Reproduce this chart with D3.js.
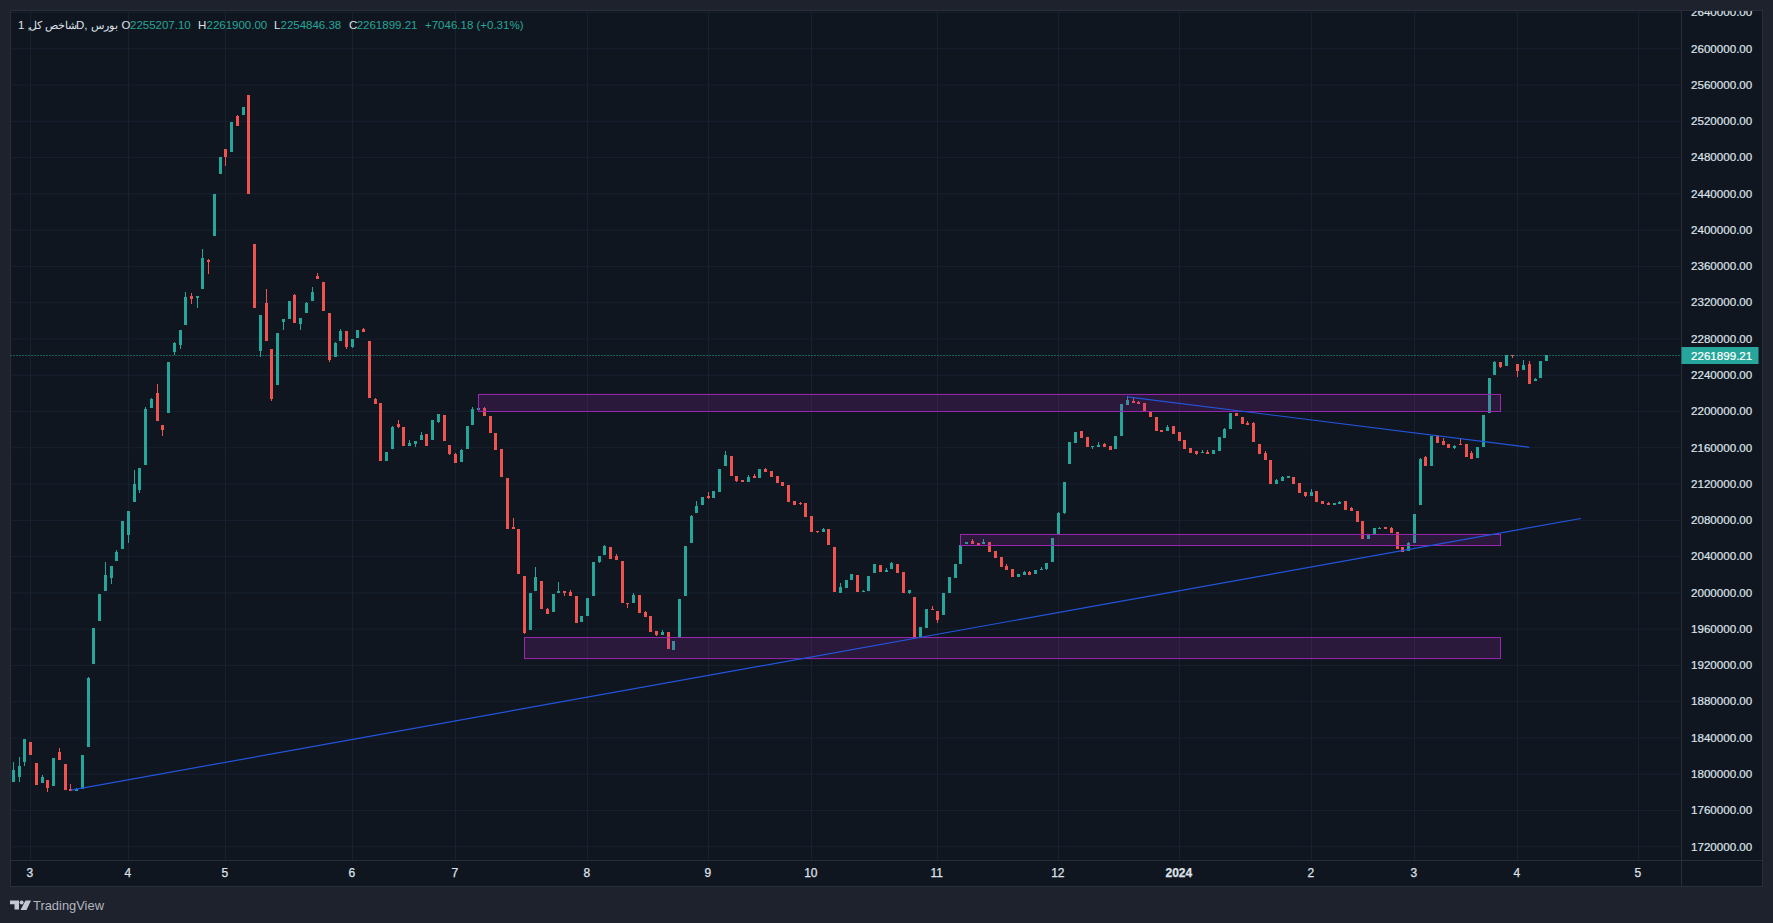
<!DOCTYPE html>
<html><head><meta charset="utf-8">
<script src="https://cdn.jsdelivr.net/npm/d3@7"></script>
<style>
html,body{margin:0;padding:0;background:#1e222d;overflow:hidden}
svg{display:block}
text{font-family:"Liberation Sans",Arial,sans-serif}
</style></head><body>
<script>
// prices in thousands
const open=[
1790.8,1796.3,1812.8,1834.9,1811.7,1789.7,1793,1786.3,1823.8,1810.6,
1783,1780.8,1783,1829.4,1920.9,1968.3,2001.4,2015.8,2034.5,2047.7,
2063.2,2099.6,2112.8,2140.4,2203.2,2219.8,2184.5,2197.7,2265,2272.7,
2294.8,2326.8,2324.5,2334.5,2366.5,2393,2461.4,2488.9,2485.6,2525.3,
2526.4,2548.5,2384.1,2266.1,2319,2268.3,2228.6,2298.1,2301.4,2327.9,
2295.9,2308,2321.2,2348.8,2342.2,2308,2259.5,2277.1,2288.2,2270.5,
2280.4,2290,2277.1,2213.2,2208.8,2144.8,2158,2185.6,2182.3,2161.3,
2163.5,2168,2174.6,2168,2187.8,2195.5,2162.4,2152.5,2143.7,2158,
2184.5,2201,2203.2,2194.4,2175.6,2158,2126,2072,2069.7,2017.9,
1958.3,2001.3,2012.4,1981.5,1978.2,1999.1,2001.3,2000.2,1995.8,1967.2,
1973.8,1995.8,2033.3,2041,2049.9,2040,2034.4,1988.1,1988.1,1996.9,
1978.2,1973.8,1957.2,1952.8,1956.1,1936.3,1949.5,1995.8,2054.3,2087.4,
2096.2,2106.1,2104,2110.6,2139.2,2150.3,2128.2,2123.8,2121.6,2128.2,
2126,2135.9,2133.7,2128.2,2121.6,2118.3,2100.6,2098.4,2098.4,2084.1,
2067.5,2066.4,2069.7,2049.9,1999.1,2004.7,2013.5,2019,2000.2,2001.3,
2021.2,2030,2022.3,2025.6,2031.1,2022.3,1999.1,1994.7,1949.5,1960.5,
1981.5,1979.3,1974.9,1999.1,2015.7,2031.1,2053.2,2056.5,2054.3,2053.2,
2055.4,2045.5,2038.9,2028.9,2025.6,2016.8,2019,2022.3,2020.1,2024.5,
2025.6,2033.3,2063.1,2087.4,2141.4,2164.6,2177.8,2171.2,2160.2,2160.2,
2163.5,2161.3,2158,2172.3,2206.5,2210.9,2209.8,2208.7,2199.9,2193.3,
2178.9,2177.8,2183.4,2176.7,2167.9,2159.1,2155.8,2153.6,2154.7,2152.5,
2155.8,2170.1,2180,2197.7,2193.3,2186.7,2186.7,2163.5,2153.6,2145.9,
2119.4,2122.7,2126,2127.1,2120.5,2110.5,2106.1,2111.6,2100.6,2098.4,
2096.2,2097.3,2100.6,2092.9,2089.6,2078.6,2058.7,2064.2,2069.8,2072,
2070.9,2066.5,2049.9,2045.5,2054.3,2096.3,2149.2,2139.3,2172.4,2166.9,
2163.5,2159.1,2163.5,2163.5,2153.6,2148.1,2160.2,2197.7,2239.7,2254,
2249.6,2261.7,2251.8,2245.2,2251.8,2233,2236.3,2255.2];
const close=[
1804,1808.4,1838.2,1820.5,1787.4,1796.3,1784.1,1817.2,1815,1781.9,
1780.8,1783,1820.5,1905.5,1960.6,1998.1,2019,2029,2044.4,2078.6,
2089.7,2119.4,2137.1,2202.1,2213.2,2188.9,2179,2254,2274.9,2289.3,
2325.7,2323.4,2326.8,2368.7,2364.3,2439.3,2480.1,2480.1,2518.7,2514.3,
2535.3,2439.7,2313.5,2305.8,2277.1,2213.2,2285.9,2301.4,2321.2,2297,
2302.5,2319,2331.2,2345.5,2310.2,2256.2,2274.9,2288.2,2270.5,2279.3,
2289.3,2287,2214.3,2207.6,2144.8,2154.7,2182.3,2182.3,2161.3,2164.6,
2166.8,2173.5,2161.3,2190,2196.6,2166.8,2152.5,2142.6,2156.9,2183.4,
2202.1,2203.2,2194.4,2175.6,2156.9,2127.1,2069.7,2069.7,2020.1,1955,
1999.1,2016.8,1981.5,1976,1998,2001.3,1999.1,1995.8,1966.1,1973.8,
1993.6,2033.3,2039.9,2051,2036.6,2035.5,1988.1,1987,1996.9,1977.1,
1972.7,1956.1,1952.8,1956.1,1937.4,1946.2,1992.5,2051,2084.1,2095.1,
2105,2104,2111.7,2135.9,2151.4,2128.2,2122.7,2121.6,2127.1,2126,
2135.9,2132.6,2127.1,2120.5,2117.2,2099.5,2096.2,2097.3,2083,2066.4,
2066.4,2069.7,2052.1,2000.2,2005.8,2013.5,2020.1,2000.2,2001.3,2017.9,
2031.1,2022.3,2024.5,2032.2,2021.2,1999.1,2002.4,1949.5,1961.6,1981.5,
1980.4,1969.4,1999.1,2016.8,2031.1,2052.1,2055.4,2053.2,2052.1,2055.4,
2044.4,2037.8,2027.8,2024.5,2016.8,2020.1,2022.3,2019,2024.5,2025.6,
2032.2,2059.8,2087.4,2121.6,2165.7,2176.7,2170.1,2160.2,2161.3,2162.4,
2160.2,2156.9,2172.3,2207.6,2212,2208.7,2207.6,2198.8,2193.3,2177.8,
2176.7,2182.2,2174.5,2166.8,2158,2153.6,2152.5,2154.7,2152.5,2156.9,
2171.2,2180,2197.7,2194.4,2185.6,2184.5,2165.7,2152.5,2145.9,2119.4,
2123.8,2127.1,2128.2,2119.4,2109.4,2106.1,2110.5,2099.5,2097.3,2096.2,
2098.4,2099.5,2090.7,2089.6,2077.5,2058.7,2064.2,2070.8,2070.9,2069.8,
2065.4,2047.7,2044.4,2054.3,2086.3,2147,2139.3,2172.4,2164.6,2162.4,
2159.1,2161.3,2162.4,2149.2,2147,2160.2,2195.5,2236.3,2254,2248.5,
2261.7,2260.6,2244.1,2250.7,2229.7,2235.2,2255.1,2261.9];
const high=[
1812.8,1818.3,1838.2,1834.9,1811.7,1798.5,1793,1817.2,1828.3,1810.6,
1788.5,1784.1,1820.5,1906.6,1960.6,1998.1,2033.4,2029,2046.6,2078.6,
2089.7,2134.9,2137.1,2204.3,2214.3,2229.7,2184.5,2254,2276,2289.3,
2331.2,2330,2326.8,2378.6,2367.6,2439.3,2480.1,2488.9,2518.7,2526.4,
2535.3,2548.5,2384.1,2305.8,2334.5,2268.3,2285.9,2301.4,2321.2,2329,
2302.5,2320.1,2336.7,2352.2,2342.2,2308,2276,2290.4,2288.2,2279.3,
2289.3,2291.5,2277.1,2214.3,2208.8,2154.7,2183.4,2190,2182.3,2168,
2166.8,2176.8,2174.6,2190,2196.6,2195.5,2162.4,2153.6,2158,2183.4,
2204.3,2205.4,2204.3,2194.4,2175.6,2158,2126,2081.9,2069.7,2017.9,
1999.1,2027.8,2012.4,1982.6,1998,2011.3,2001.3,2002.4,1995.8,1973.8,
1993.6,2033.3,2039.9,2052.1,2049.9,2042.2,2034.4,1988.1,1999.1,1996.9,
1979.3,1973.8,1957.2,1958.3,1956.1,1946.2,1992.5,2051,2085.2,2100.6,
2105,2110.6,2111.7,2135.9,2155.8,2150.3,2128.2,2123.8,2129.3,2130.4,
2135.9,2137,2133.7,2128.2,2121.6,2118.3,2100.6,2099.5,2098.4,2084.1,
2067.5,2070.8,2069.7,2049.9,2010.2,2013.5,2020.1,2019,2002.4,2017.9,
2031.1,2030,2026.7,2033.3,2031.1,2022.3,2002.4,1994.7,1961.6,1981.5,
1984.8,1979.3,1999.1,2016.8,2031.1,2052.1,2055.4,2058.7,2054.3,2058.7,
2055.4,2045.5,2038.9,2031.1,2025.6,2020.1,2023.4,2023.4,2024.5,2027.8,
2032.2,2059.8,2088.5,2121.6,2165.7,2176.7,2177.8,2171.2,2161.3,2165.7,
2164.6,2161.3,2172.3,2207.6,2216.4,2214.2,2210.9,2208.7,2199.9,2193.3,
2178.9,2184.5,2183.4,2176.7,2167.9,2159.1,2155.8,2156.9,2156.9,2156.9,
2171.2,2181.1,2197.7,2197.7,2193.3,2188.9,2187.8,2163.5,2155.8,2145.9,
2124.9,2128.2,2128.2,2127.1,2120.5,2110.5,2113.9,2111.6,2100.6,2099.5,
2098.4,2100.6,2100.6,2094,2089.6,2078.6,2064.2,2070.8,2072,2072,
2072,2066.5,2049.9,2055.4,2086.3,2148.1,2150.3,2172.4,2173.5,2170.2,
2163.5,2162.4,2169.1,2163.5,2155.8,2160.2,2195.5,2236.3,2255.1,2254,
2261.7,2261.7,2251.8,2256.2,2255.1,2236.3,2255.1,2261.9];
const low=[
1790.8,1790.8,1808.4,1820.5,1787.4,1789.7,1779.7,1786.3,1815,1781.9,
1780.8,1780.8,1783,1829.4,1920.9,1968.3,2001.4,2009.1,2034.5,2047.7,
2054.4,2099.6,2109.5,2140.4,2203.2,2188.9,2172.4,2197.7,2261.7,2268.3,
2294.8,2317.9,2313.5,2334.5,2351,2393,2461.4,2470.2,2485.6,2514.3,
2526.4,2439.7,2313.5,2259.5,2277.1,2211,2228.6,2289.3,2301.4,2297,
2289.3,2308,2321.2,2345.5,2310.2,2254,2259.5,2277.1,2268.3,2269.4,
2280.4,2287,2214.3,2207.6,2144.8,2144.8,2158,2181.2,2161.3,2161.3,
2160.2,2168,2161.3,2168,2186.7,2166.8,2151.4,2142.6,2143.7,2158,
2184.5,2201,2194.4,2175.6,2156.9,2127.1,2069.7,2069.7,2020.1,1953.9,
1958.3,2001.3,1981.5,1976,1978.2,1999.1,1995.8,1995.8,1966.1,1967.2,
1973.8,1995.8,2032.2,2041,2036.6,2035.5,1988.1,1982.6,1988.1,1977.1,
1972.7,1956.1,1951.7,1952.8,1937.4,1936.3,1949.5,1995.8,2054.3,2087.4,
2096.2,2102.8,2104,2110.6,2139.2,2128.2,2121.6,2121.6,2121.6,2126,
2126,2132.6,2127.1,2120.5,2117.2,2099.5,2096.2,2096.2,2083,2066.4,
2065.3,2066.4,2052.1,2000.2,1999.1,2004.7,2013.5,2000.2,2000.2,2001.3,
2021.2,2022.3,2022.3,2025.6,2021.2,1999.1,1998,1949.5,1949.5,1960.5,
1980.4,1966.1,1974.9,1999.1,2015.7,2031.1,2053.2,2053.2,2051,2053.2,
2044.4,2037.8,2027.8,2024.5,2016.8,2016.8,2019,2019,2020.1,2024.5,
2024.5,2033.3,2063.1,2086.3,2141.4,2164.6,2170.1,2160.2,2158,2160.2,
2160.2,2156.9,2158,2172.3,2206.5,2208.7,2207.6,2198.8,2193.3,2177.8,
2176.7,2177.8,2174.5,2166.8,2158,2153.6,2151.4,2153.6,2152.5,2152.5,
2155.8,2170.1,2180,2194.4,2185.6,2184.5,2165.7,2152.5,2145.9,2119.4,
2119.4,2122.7,2126,2119.4,2109.4,2105,2106.1,2099.5,2097.3,2096.2,
2096.2,2097.3,2090.7,2089.6,2077.5,2058.7,2058.7,2064.2,2069.8,2069.8,
2065.4,2047.7,2044.4,2045.5,2054.3,2096.3,2139.3,2139.3,2164.6,2162.4,
2159.1,2158,2162.4,2149.2,2147,2148.1,2160.2,2197.7,2239.7,2247.4,
2249.6,2258.4,2237.5,2245.2,2229.7,2233,2236.3,2254.8];

const priceTicks=[1720,1760,1800,1840,1880,1920,1960,2000,2040,2080,2120,2160,2200,2240,2280,2320,2360,2400,2440,2480,2520,2560,2600,2640];
const timeTickBars=[3,20,37,59,77,100,121,139,161,182,203,226,244,262,283];
const timeTickLabels=["3","4","5","6","7","8","9","10","11","12","2024","2","3","4","5"];
const lastPrice=2261.89921;
const lastPriceLabel="2261899.21";

// drawn zones: start bar, end bar, top price, bottom price
const zoneStart=[81,89,165], zoneEnd=[259,259,259], zoneTop=[2218.3,1950.2,2063.9], zoneBottom=[2199.5,1927,2051.7];
// trend lines
const trendBarA=[10,194], trendPriceA=[1782,2215.7], trendBarB=[273,264], trendPriceB=[2081.5,2159.9];

const W=1773,H=923;
const paneL=10.5,paneT=10.5,axisX=1681.5,axisY=860.5,paneR=1762.5,paneB=886.5;
const GREEN="#26a69a",RED="#ef5350",GRID="#182130",BORDER="#2a2e39",TXT="#dfe2ea";

const svg=d3.select("body").append("svg").attr("width",W).attr("height",H);
svg.append("rect").attr("width",W).attr("height",H).attr("fill","#1e222d");
svg.append("rect").attr("x",paneL).attr("y",paneT).attr("width",paneR-paneL).attr("height",paneB-paneT).attr("fill","#0f1620").attr("stroke",BORDER);

const defs=svg.append("defs");
defs.append("clipPath").attr("id","chartClip").append("rect").attr("x",paneL).attr("y",paneT).attr("width",axisX-paneL).attr("height",axisY-paneT);
defs.append("clipPath").attr("id","axisClip").append("rect").attr("x",axisX).attr("y",paneT+.5).attr("width",paneR-axisX).attr("height",axisY-paneT);

const x=d3.scaleLinear().domain([0,open.length-1]).range([13.5,1546.5]);
const y=d3.scaleLinear().domain([1720,2600]).range([846.3,48.3]);
const px=i=>Math.floor(x(i))+.5;

// grid
const chart=svg.append("g").attr("clip-path","url(#chartClip)");
const gridY=chart.append("g").attr("transform",`translate(${paneL},0)`)
  .call(d3.axisRight(y).tickValues(priceTicks).tickSize(axisX-paneL).tickFormat(""));
gridY.select(".domain").remove();
gridY.selectAll("line").attr("stroke",GRID);
const gridX=chart.append("g").attr("transform",`translate(0,${axisY})`)
  .call(d3.axisTop(x).tickValues(timeTickBars).tickSize(axisY-paneT).tickFormat(""));
gridX.select(".domain").remove();
gridX.selectAll("line").attr("stroke",GRID);
gridX.selectAll(".tick").attr("transform",d=>`translate(${px(d)},0)`);

// candles
const idx=d3.range(open.length);
const col=i=>close[i]>=open[i]?GREEN:RED;
const candles=chart.append("g").attr("shape-rendering","crispEdges");
candles.selectAll("line").data(idx).join("line")
  .attr("x1",px).attr("x2",px)
  .attr("y1",i=>y(high[i])).attr("y2",i=>y(low[i]))
  .attr("stroke",col);
candles.selectAll("rect").data(idx).join("rect")
  .attr("x",i=>px(i)-1.5).attr("width",3)
  .attr("y",i=>Math.round(y(Math.max(open[i],close[i]))))
  .attr("height",i=>Math.max(1,Math.round(y(Math.min(open[i],close[i])))-Math.round(y(Math.max(open[i],close[i])))))
  .attr("fill",col);

// zones
chart.append("g").selectAll("rect").data(zoneStart.map((_,i)=>i)).join("rect")
  .attr("x",i=>px(zoneStart[i])).attr("width",i=>px(zoneEnd[i])-px(zoneStart[i]))
  .attr("y",i=>y(zoneTop[i])).attr("height",i=>y(zoneBottom[i])-y(zoneTop[i]))
  .attr("fill","#9c27b0").attr("fill-opacity",.2).attr("stroke","#9c27b0").attr("stroke-width",1);

// trend lines
chart.append("g").selectAll("line").data(trendBarA.map((_,i)=>i)).join("line")
  .attr("x1",i=>x(trendBarA[i])).attr("y1",i=>y(trendPriceA[i]))
  .attr("x2",i=>x(trendBarB[i])).attr("y2",i=>y(trendPriceB[i]))
  .attr("stroke","#2255dd").attr("stroke-width",1.2);

// last price line
chart.append("line").attr("x1",paneL).attr("x2",axisX).attr("y1",Math.round(y(lastPrice))+.5).attr("y2",Math.round(y(lastPrice))+.5)
  .attr("stroke",GREEN).attr("stroke-dasharray","1,2");

// separators
svg.append("line").attr("x1",axisX).attr("x2",axisX).attr("y1",paneT).attr("y2",paneB).attr("stroke",BORDER);
svg.append("line").attr("x1",paneL).attr("x2",paneR).attr("y1",axisY).attr("y2",axisY).attr("stroke",BORDER);

// price axis
const yAxis=svg.append("g").attr("clip-path","url(#axisClip)").append("g").attr("transform",`translate(${axisX},0)`)
  .call(d3.axisRight(y).tickValues(priceTicks).tickSize(0).tickPadding(9.5).tickFormat(d=>(d*1000).toFixed(2)));
yAxis.select(".domain").remove();
yAxis.selectAll("text").attr("fill",TXT).attr("stroke",TXT).attr("stroke-width",.2).attr("font-size","11.6px").attr("font-family",'"Liberation Sans",Arial,sans-serif');

// time axis
const xAxis=svg.append("g").attr("transform",`translate(0,${axisY})`)
  .call(d3.axisBottom(x).tickValues(timeTickBars).tickSize(0).tickPadding(8).tickFormat((d,i)=>timeTickLabels[i]));
xAxis.select(".domain").remove();
xAxis.selectAll(".tick").attr("transform",d=>`translate(${px(d)-.7},0)`);
xAxis.selectAll("text").attr("fill",TXT).attr("stroke",TXT).attr("stroke-width",.25).attr("font-size","12px").attr("font-family",'"Liberation Sans",Arial,sans-serif')
  .attr("font-weight",(d,i)=>timeTickLabels[i]==="2024"?700:400);

// last price tag
const tagY=Math.round(y(lastPrice))+.5;
svg.append("rect").attr("x",axisX).attr("y",tagY-8.5).attr("width",77).attr("height",17).attr("fill",GREEN);
svg.append("text").attr("x",1691).attr("y",tagY+4).attr("fill","#fff").attr("stroke","#fff").attr("stroke-width",.2).attr("font-size","11.6px").text(lastPriceLabel);

// header
const headerTexts=["1 ,","شاخص کل","D,","بورس","O","2255207.10","H","2261900.00","L","2254846.38","C","2261899.21","+7046.18 (+0.31%)"];
const headerX=[18,29,76,91,121.5,130,198,206.5,274,280.5,349,356.7,425];
const headerColor=[TXT,TXT,TXT,TXT,TXT,GREEN,TXT,GREEN,TXT,GREEN,TXT,GREEN,GREEN];
const header=svg.append("g");
header.selectAll("text").data(headerTexts).join("text")
  .attr("x",(d,i)=>headerX[i]).attr("y",29)
  .attr("direction",(d,i)=>i==1||i==3?"rtl":"ltr")
  .attr("text-anchor",(d,i)=>i==1||i==3?"end":"start")
  .attr("font-family",(d,i)=>i==1||i==3?'"DejaVu Sans",sans-serif':'"Liberation Sans",Arial,sans-serif')
  .attr("font-size",(d,i)=>i==1||i==3?"10.5px":"11.5px")
  .attr("fill",(d,i)=>headerColor[i])
  .text(d=>d);

// TradingView mark
const logo=svg.append("g").attr("fill","#c5c8d0").attr("transform","translate(10,900.5)");
logo.append("path").attr("d","M0 0H9V9H4.5V3.8H0Z");
logo.append("circle").attr("cx",11.6).attr("cy",2).attr("r",2);
logo.append("path").attr("d","M15.5 0H21L16.5 9.5H10.5Z");
svg.append("text").attr("x",33).attr("y",910).attr("fill","#b2b5be").attr("font-size","12.9px").attr("font-family",'"Open Sans",sans-serif').text("TradingView");
</script>
</body></html>
